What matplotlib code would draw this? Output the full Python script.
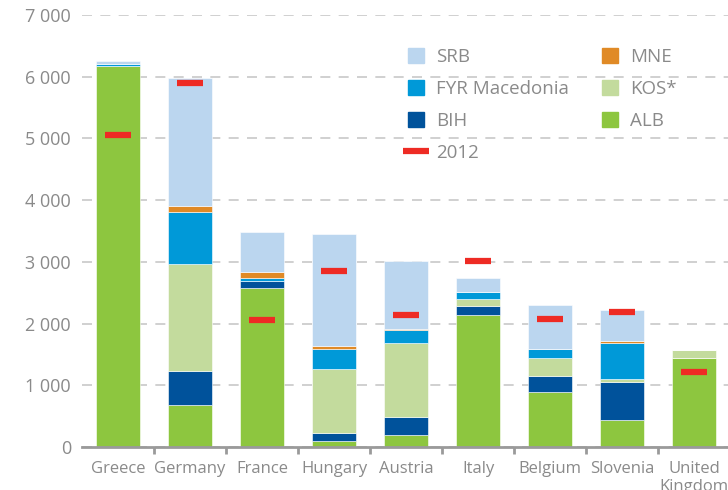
import matplotlib
matplotlib.use("Agg")
import matplotlib.pyplot as plt
import numpy as np
from matplotlib.lines import Line2D
from matplotlib.patches import Patch

plt.rcParams["font.family"] = ["Open Sans", "DejaVu Sans"]

# donnees
countries = ["Greece", "Germany", "France", "Hungary", "Austria",
             "Italy", "Belgium", "Slovenia", "United\nKingdom"]
alb = [6180, 680, 2578, 97, 195, 2135, 897, 432, 1449]
bih = [0, 550, 114, 130, 291, 146, 254, 627, 0]
kos = [0, 1730, 0, 1038, 1195, 119, 287, 38, 118]
fyr = [20, 854, 54, 329, 221, 108, 146, 595, 0]
mne = [0, 92, 92, 44, 16, 11, 5, 27, 0]
srb = [50, 2081, 643, 1811, 1103, 221, 719, 497, 0]
y2012 = [5060, 5891, 2059, 2859, 2140, 3021, 2076, 2189, 1216]

# ordre d'empilement, du bas vers le haut
series = [("ALB", alb, "#8DC63F"),
          ("BIH", bih, "#00529B"),
          ("KOS*", kos, "#C3DB9D"),
          ("FYR Macedonia", fyr, "#0099D8"),
          ("MNE", mne, "#E08A26"),
          ("SRB", srb, "#BBD6EF")]
red = "#EE2B24"
grey = "#8A8A8A"

fig = plt.figure(figsize=(7.28, 4.9), dpi=100)
ax = fig.add_axes([82 / 728, 43 / 490, 646 / 728, 432 / 490])

x = np.arange(len(countries))
bottom = np.zeros(len(countries))
for name, vals, col in series:
    vals = np.array(vals, dtype=float)
    ax.bar(x, vals, 0.61, bottom=bottom, color=col, edgecolor="white",
           linewidth=0.4, zorder=2)
    bottom += vals

ax.plot(x, y2012, linestyle="none", marker="_", ms=19, mew=4.5,
        color=red, zorder=3)

ax.set_ylim(0, 7000)
ax.set_xlim(-0.5, 8.47)
ax.set_yticks(np.arange(0, 7001, 1000))
ax.set_yticklabels([f"{v:,}".replace(",", " ") for v in range(0, 7001, 1000)])
ax.yaxis.grid(True, linestyle=(0, (6, 5)), color="#C8C8C8", linewidth=1.2, zorder=0)
ax.set_axisbelow(True)

ax.set_xticks(x)
ax.set_xticklabels(countries)
ax.set_xticks(np.arange(0.5, 8.5, 1), minor=True)
ax.tick_params(axis="x", which="major", length=0, labelsize=12, colors=grey, pad=10)
ax.tick_params(axis="x", which="minor", length=5, width=2, color="#9A9A9A")
ax.tick_params(axis="y", length=0, labelsize=13, colors=grey, pad=8)

for s in ["top", "right", "left"]:
    ax.spines[s].set_visible(False)
ax.spines["bottom"].set_color("#9A9A9A")
ax.spines["bottom"].set_linewidth(2)

handles = [Patch(color="#BBD6EF", label="SRB"),
           Patch(color="#0099D8", label="FYR Macedonia"),
           Patch(color="#00529B", label="BIH"),
           Line2D([], [], linestyle="none", marker="_", ms=19, mew=4.5,
                  color=red, label="2012"),
           Patch(color="#E08A26", label="MNE"),
           Patch(color="#C3DB9D", label="KOS*"),
           Patch(color="#8DC63F", label="ALB")]
leg = fig.legend(handles=handles, ncol=2, loc="upper left",
                 bbox_to_anchor=(391 / 728, 1 - 31 / 490), frameon=False,
                 fontsize=13.5, handlelength=0.87, handleheight=0.87,
                 labelspacing=0.74, columnspacing=1.76, handletextpad=0.62)
for t in leg.get_texts():
    t.set_color(grey)

fig.savefig("out.png", dpi=100)
